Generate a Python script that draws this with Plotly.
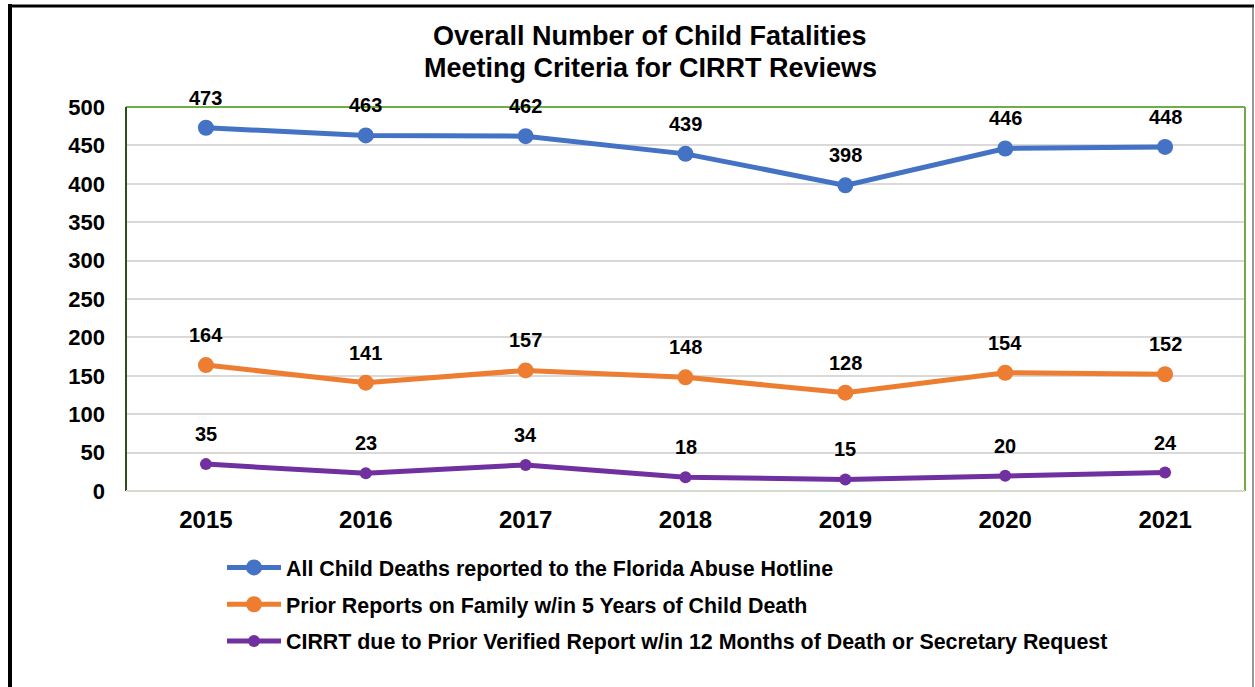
import plotly.graph_objects as go

years = ["2015", "2016", "2017", "2018", "2019", "2020", "2021"]
all_deaths = [473, 463, 462, 439, 398, 446, 448]
prior_reports = [164, 141, 157, 148, 128, 154, 152]
cirrt = [35, 23, 34, 18, 15, 20, 24]

series_names = [
    "All Child Deaths reported to the Florida Abuse Hotline",
    "Prior Reports on Family w/in 5 Years of Child Death",
    "CIRRT due to Prior Verified Report w/in 12 Months of Death or Secretary Request",
]
colors = ["#4472C4", "#ED7D31", "#7030A0"]
marker_sizes = [16, 16, 12]
title_lines = ["Overall Number of Child Fatalities", "Meeting Criteria for CIRRT Reviews"]
y_ticks = [0, 50, 100, 150, 200, 250, 300, 350, 400, 450, 500]

FONT = "Arial, Liberation Sans, sans-serif"

W, H = 1255, 687
L, R, T, B = 126, 10, 107, 196
pw, ph = W - L - R, H - T - B

def px_x(p):
    return (p - L) / pw

def px_y(p):
    return (H - B - p) / ph

fig = go.Figure()
all_series = [all_deaths, prior_reports, cirrt]
for i, (name, vals) in enumerate(zip(series_names, all_series)):
    fig.add_trace(go.Scatter(
        x=years, y=vals, name=name, mode="lines+markers",
        line=dict(color=colors[i], width=5),
        marker=dict(color=colors[i], size=marker_sizes[i]),
        legendgroup=f"g{i}",
    ))

annotations = []
for vals in all_series:
    for idx, yv in enumerate(vals):
        annotations.append(dict(
            x=idx, y=yv, xref="x", yref="y", text=f"<b>{yv}</b>",
            showarrow=False, yshift=30, yanchor="middle",
            font=dict(family=FONT, size=20, color="black"),
        ))

# title lines (two annotations for tighter line spacing)
for line, cy in zip(title_lines, [36, 68]):
    annotations.append(dict(
        x=px_x(650), y=px_y(cy), xref="paper", yref="paper",
        text=f"<b>{line}</b>", showarrow=False, xanchor="center", yanchor="middle",
        font=dict(family=FONT, size=27, color="black"),
    ))

shapes = [
    # plot area borders
    dict(type="line", xref="paper", yref="paper", x0=0, x1=1, y0=1, y1=1,
         line=dict(color="#70AD47", width=2)),
    dict(type="line", xref="paper", yref="paper", x0=1, x1=1, y0=0, y1=1,
         line=dict(color="#70AD47", width=2)),
    dict(type="line", xref="paper", yref="paper", x0=0, x1=0, y0=0, y1=1,
         line=dict(color="#2F4F1A", width=2)),
    dict(type="line", xref="paper", yref="paper", x0=0, x1=1, y0=0, y1=0,
         line=dict(color="#D5DDCF", width=2)),
    # outer frame
    dict(type="line", xref="paper", yref="paper", x0=px_x(10), x1=px_x(10),
         y0=px_y(4), y1=px_y(690), line=dict(color="black", width=4)),
    dict(type="line", xref="paper", yref="paper", x0=px_x(8), x1=px_x(1254),
         y0=px_y(6), y1=px_y(6), line=dict(color="black", width=3)),
    dict(type="line", xref="paper", yref="paper", x0=px_x(1253), x1=px_x(1253),
         y0=px_y(6), y1=px_y(690), line=dict(color="#333333", width=1)),
]

fig.update_layout(
    width=W, height=H,
    margin=dict(l=L, r=R, t=T, b=B, autoexpand=False),
    paper_bgcolor="white", plot_bgcolor="white",
    font=dict(family=FONT, color="black"),
    xaxis=dict(type="category", range=[-0.5, 6.5], showgrid=False,
               showline=False, zeroline=False, ticks="",
               tickfont=dict(family=FONT, size=24, color="black", weight="bold"),
               ticklabelstandoff=12),
    yaxis=dict(range=[0, 500], tickvals=y_ticks, showgrid=True,
               gridcolor="#D9D9D9", gridwidth=1.5, zeroline=False,
               showline=False, ticks="",
               tickfont=dict(family=FONT, size=22, color="black", weight="bold"),
               ticklabelstandoff=20),
    legend=dict(x=px_x(222), y=px_y(547), xanchor="left", yanchor="top",
                font=dict(family=FONT, size=21.4, color="black", weight="bold"),
                tracegroupgap=6, itemwidth=54, bgcolor="rgba(0,0,0,0)"),
    showlegend=True,
    annotations=annotations,
    shapes=shapes,
)

fig.write_html("out.html", config={"displayModeBar": False},
               post_script="document.body.style.margin='0';document.body.style.overflow='hidden';")
